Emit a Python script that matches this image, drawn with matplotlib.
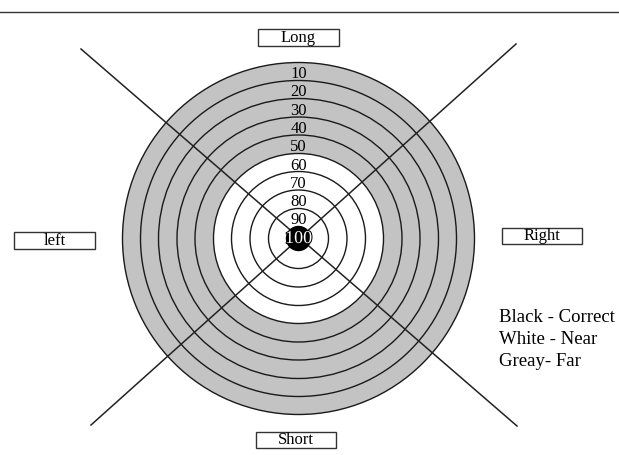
import numpy as np
import matplotlib
matplotlib.use("Agg")
import matplotlib.pyplot as plt
from matplotlib.patches import Circle, Rectangle
import matplotlib.patheffects as pe

# ring scores from outside to centre and their radii (pixels)
scores = [10, 20, 30, 40, 50, 60, 70, 80, 90]
radii = [176, 158, 140, 121.5, 103.5, 85, 67, 48.5, 30]
bull_score = 100
bull_radius = 12
gray_rings = 5  # outer rings drawn grey

directions = ["Long", "left", "Right", "Short"]
legend_lines = ["Black - Correct", "White - Near", "Greay- Far"]

cx, cy = 298.5, 238.5
serif = ["Liberation Serif", "DejaVu Serif"]

fig = plt.figure(figsize=(6.19, 4.55), dpi=100)
ax = fig.add_axes([0, 0, 1, 1])
ax.set_xlim(0, 619)
ax.set_ylim(455, 0)
ax.set_aspect("equal")
ax.axis("off")

# top rule
ax.plot([0, 619], [12, 12], color="#333333", lw=1.0)

# rings
for i, r in enumerate(radii):
    fc = "#c3c3c3" if i < gray_rings else "white"
    ax.add_patch(Circle((cx, cy), r, facecolor=fc, edgecolor="#1a1a1a", lw=1.0, zorder=2))
ax.add_patch(Circle((cx, cy), bull_radius, facecolor="black", edgecolor="black", zorder=4))

# diagonal lines
ax.plot([81, 517], [49, 426], color="#222222", lw=1.1, zorder=3)
ax.plot([516, 91], [44, 425], color="#222222", lw=1.1, zorder=3)

# ring labels
for i, s in enumerate(scores):
    inner = radii[i + 1] if i + 1 < len(radii) else bull_radius
    ymid = cy - (radii[i] + inner) / 2 + 3
    ax.text(cx, ymid, str(s), ha="center", va="center", fontsize=12,
            family=serif, color="black", zorder=5)
ax.text(cx, cy, str(bull_score), ha="center", va="center", fontsize=13,
        family=serif, color="white", zorder=6,
        path_effects=[pe.withStroke(linewidth=1.5, foreground="black")])

# direction boxes (x0, y0, w, h)
boxes = [(258, 29, 81, 17), (14, 232, 81, 17), (502, 228, 80, 16), (256, 432, 80, 16)]
for name, (x0, y0, w, h) in zip(directions, boxes):
    ax.add_patch(Rectangle((x0, y0), w, h, facecolor="white", edgecolor="#333333", lw=1.0, zorder=5))
    ax.text(x0 + w / 2, y0 + h / 2 + 0.5, name, ha="center", va="center",
            fontsize=12, family=serif, zorder=6)

# legend text
for k, line in enumerate(legend_lines):
    ax.text(499, 317 + k * 22, line, ha="left", va="center", fontsize=13.5, family=serif)

fig.savefig("out.png", dpi=100, facecolor="white")
